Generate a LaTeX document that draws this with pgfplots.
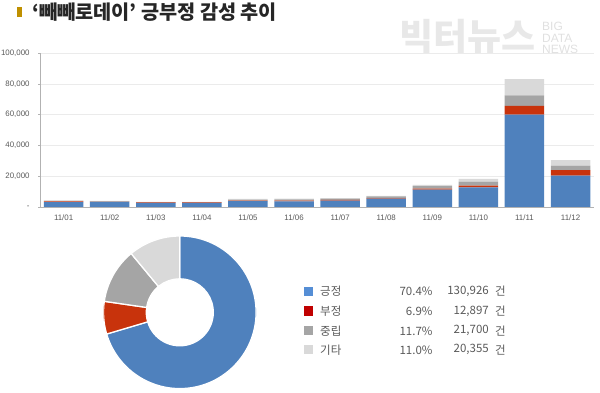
\documentclass[border=0pt]{standalone}
\usepackage{fontspec}
\setmainfont{Noto Sans CJK KR}
\newfontfamily\arial{Liberation Sans}
\usepackage{pgfplots}
\usepackage{pgfplotstable}
\pgfplotsset{compat=1.18}
\definecolor{cpos}{HTML}{4F81BD}
\definecolor{cneg}{HTML}{C8330C}
\definecolor{cneu}{HTML}{A5A5A5}
\definecolor{cetc}{HTML}{D9D9D9}
\definecolor{lpos}{HTML}{558ED5}
\definecolor{lneg}{HTML}{C00000}
\definecolor{ctxt}{HTML}{595959}
\definecolor{ctitle}{HTML}{BF9000}

\pgfplotstableread{
x pos neg neu etc
0 3200 400 400 300
1 3300 100 200 300
2 2700 300 200 200
3 2700 300 200 200
4 3800 300 700 400
5 3700 500 800 400
6 4100 500 800 400
7 5400 300 1200 400
8 11300 600 1700 700
9 12800 1000 2600 1800
10 60000 5600 6800 10700
11 20300 3700 2800 3700
}\bardata

\pgfplotstableread{
pct count
70.4 130926
6.9 12897
11.7 21700
11.0 20355
}\piedata

\begin{document}
\begin{tikzpicture}
\useasboundingbox (0pt,0pt) rectangle (600pt,393pt);

% watermark
\node[anchor=west, text=black!9, font=\fontsize{37}{37}\selectfont\bfseries, inner sep=0] at (399pt,356pt) {빅터뉴스};
\node[anchor=west, text=black!12, font=\arial\fontsize{12}{11.7}\selectfont, align=left, inner sep=0] at (542pt,355pt) {BIG\\DATA\\NEWS};

% title
\fill[ctitle] (17.3pt,375.7pt) rectangle (22pt,385.7pt);
\node[anchor=west, inner sep=0, font=\fontsize{19.7}{19.7}\selectfont\bfseries, text=black!85] at (32pt,380.5pt) {‘빼빼로데이’ 긍부정 감성 추이};

% bar chart
\begin{axis}[
  at={(40.6pt,186pt)}, anchor=south west,
  scale only axis, width=553pt, height=154pt,
  ybar stacked, bar width=0.857,
  xmin=-0.5, xmax=11.5, ymin=0, ymax=100000,
  scaled y ticks=false,
  axis lines*=left,
  axis line style={draw=black!30, -},
  xtick=data,
  xticklabels={11/01,11/02,11/03,11/04,11/05,11/06,11/07,11/08,11/09,11/10,11/11,11/12},
  ytick={0,20000,40000,60000,80000,100000},
  yticklabels={-,{20,000},{40,000},{60,000},{80,000},{100,000}},
  ymajorgrids, grid style={draw=black!8},
  x tick style={draw=none},
  y tick style={draw=black!30},
  tick align=outside, major tick length=2.5pt,
  tick label style={font=\arial\fontsize{7.9}{9}\selectfont, text=ctxt},
  /pgf/number format/assume math mode=true,
  yticklabel style={xshift=-5pt},
  xticklabel style={yshift=-2pt},
]
\addplot[fill=cpos, draw=none] table[x=x,y=pos] {\bardata};
\addplot[fill=cneg, draw=none] table[x=x,y=neg] {\bardata};
\addplot[fill=cneu, draw=none] table[x=x,y=neu] {\bardata};
\addplot[fill=cetc, draw=none] table[x=x,y=etc] {\bardata};
\end{axis}

% donut data
\pgfplotstablegetelem{0}{pct}\of\piedata \let\pa\pgfplotsretval
\pgfplotstablegetelem{1}{pct}\of\piedata \let\pb\pgfplotsretval
\pgfplotstablegetelem{2}{pct}\of\piedata \let\pc\pgfplotsretval
\pgfplotstablegetelem{3}{pct}\of\piedata \let\pd\pgfplotsretval
\pgfmathsetmacro\aA{90}
\pgfmathsetmacro\aB{\aA-3.6*\pa}
\pgfmathsetmacro\aC{\aB-3.6*\pb}
\pgfmathsetmacro\aD{\aC-3.6*\pc}
\pgfmathsetmacro\aE{\aD-3.6*\pd}
\def\ro{76.3}
\def\ri{33.5}
\pgfmathsetmacro\rw{\ro-\ri}

\begin{axis}[
  at={(179.8pt,80.7pt)}, anchor=center,
  scale only axis, width=152.6pt, height=152.6pt,
  xmin=-1, xmax=1, ymin=-1, ymax=1, hide axis,
]
\fill[cpos, draw=white, line width=1.3pt] (axis cs:0,0) ++(\aA:\ro pt) arc[start angle=\aA, end angle=\aB, radius=\ro pt] -- ++({\aB+180}:\rw pt) arc[start angle=\aB, end angle=\aA, radius=\ri pt] -- cycle;
\fill[cneg, draw=white, line width=1.3pt] (axis cs:0,0) ++(\aB:\ro pt) arc[start angle=\aB, end angle=\aC, radius=\ro pt] -- ++({\aC+180}:\rw pt) arc[start angle=\aC, end angle=\aB, radius=\ri pt] -- cycle;
\fill[cneu, draw=white, line width=1.3pt] (axis cs:0,0) ++(\aC:\ro pt) arc[start angle=\aC, end angle=\aD, radius=\ro pt] -- ++({\aD+180}:\rw pt) arc[start angle=\aD, end angle=\aC, radius=\ri pt] -- cycle;
\fill[cetc, draw=white, line width=1.3pt] (axis cs:0,0) ++(\aD:\ro pt) arc[start angle=\aD, end angle=\aE, radius=\ro pt] -- ++({\aE+180}:\rw pt) arc[start angle=\aE, end angle=\aD, radius=\ri pt] -- cycle;
\end{axis}

% legend
\begin{scope}[font=\fontsize{11.5}{12}\selectfont, text=ctxt]
\fill[lpos] (304pt,97pt) rectangle (313.3pt,106.3pt);
\fill[lneg] (304pt,77.2pt) rectangle (313.3pt,86.5pt);
\fill[cneu] (304pt,57.7pt) rectangle (313.3pt,67pt);
\fill[cetc] (304pt,38.7pt) rectangle (313.3pt,48pt);
\node[anchor=west, inner sep=0] at (320pt,101.5pt) {긍정};
\node[anchor=west, inner sep=0] at (320pt,81.7pt) {부정};
\node[anchor=west, inner sep=0] at (320pt,62.2pt) {중립};
\node[anchor=west, inner sep=0] at (320pt,43.2pt) {기타};
\node[anchor=east, inner sep=0] at (432.7pt,101.5pt) {70.4\%};
\node[anchor=east, inner sep=0] at (432.7pt,81.7pt) {6.9\%};
\node[anchor=east, inner sep=0] at (432.7pt,62.2pt) {11.7\%};
\node[anchor=east, inner sep=0] at (432.7pt,43.2pt) {11.0\%};
\node[anchor=east, inner sep=0] at (489pt,101.5pt) {130,926};
\node[anchor=east, inner sep=0] at (489pt,81.7pt) {12,897};
\node[anchor=east, inner sep=0] at (489pt,62.2pt) {21,700};
\node[anchor=east, inner sep=0] at (489pt,43.2pt) {20,355};
\node[anchor=west, inner sep=0] at (495pt,101.5pt) {건};
\node[anchor=west, inner sep=0] at (495pt,81.7pt) {건};
\node[anchor=west, inner sep=0] at (495pt,62.2pt) {건};
\node[anchor=west, inner sep=0] at (495pt,43.2pt) {건};
\end{scope}
\end{tikzpicture}
\end{document}
